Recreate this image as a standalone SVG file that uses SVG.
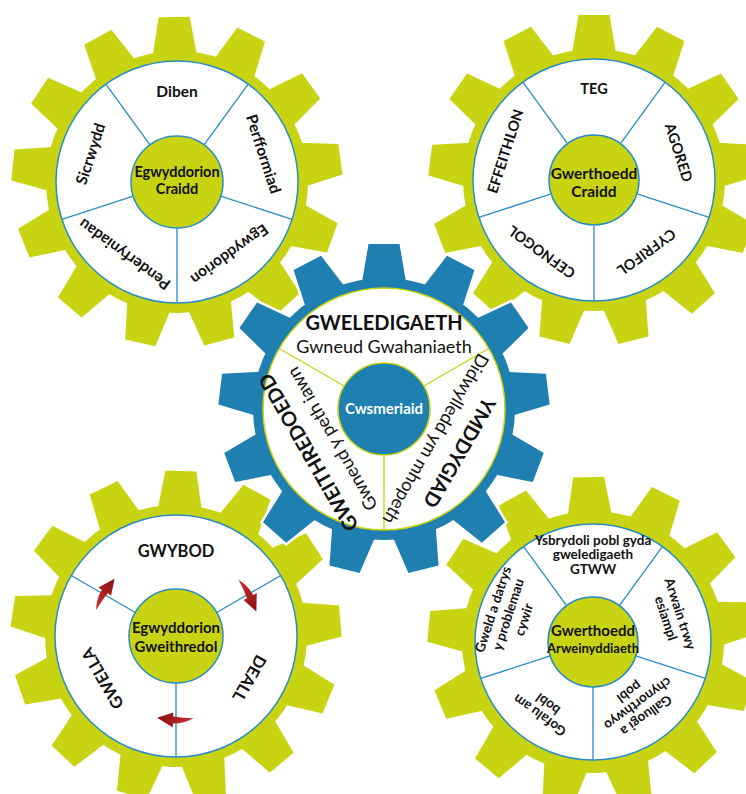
<svg xmlns="http://www.w3.org/2000/svg" width="746" height="794" viewBox="0 0 746 794">
<defs>
<style>
.t{font-family:Lato,"Liberation Sans",sans-serif;font-weight:bold;fill:#111;text-anchor:middle}
.rg{font-weight:normal}
.green{fill:#c8d412}
.blue{fill:#1e7fb0}
.halo{fill:#fff;stroke:#fff;stroke-width:5}
.ringB{fill:#fff;stroke:#2a8cc4;stroke-width:1.5}
.hubG{fill:#c8d412;stroke:#2a8cc4;stroke-width:1.5}
.divB line{stroke:#2a8cc4;stroke-width:1.3}
.ringY{fill:#fff;stroke:#c8d412;stroke-width:1.5}
.hubY{fill:#1e7fb0;stroke:#c8d412;stroke-width:1.5}
.divY line{stroke:#c8d412;stroke-width:1.3}
.arrow{fill:url(#red)}
</style>
<linearGradient id="red" x1="0" y1="0" x2="1" y2="0">
<stop offset="0" stop-color="#8a1010"/>
<stop offset="1" stop-color="#cc3030"/>
</linearGradient>
<path id="tooth" d="M-22,-127 L-15.5,-165 L15.5,-165 L22,-127 Z"/>
<g id="gear">
<circle r="131"/>
<use href="#tooth"/>
<use href="#tooth" transform="rotate(27.692)"/>
<use href="#tooth" transform="rotate(55.385)"/>
<use href="#tooth" transform="rotate(83.077)"/>
<use href="#tooth" transform="rotate(110.769)"/>
<use href="#tooth" transform="rotate(138.462)"/>
<use href="#tooth" transform="rotate(166.154)"/>
<use href="#tooth" transform="rotate(193.846)"/>
<use href="#tooth" transform="rotate(221.538)"/>
<use href="#tooth" transform="rotate(249.231)"/>
<use href="#tooth" transform="rotate(276.923)"/>
<use href="#tooth" transform="rotate(304.615)"/>
<use href="#tooth" transform="rotate(332.308)"/>
</g>
<path id="arr" d="M17.5,82.2 Q7.85,87.5 -3.05,87.45 L-3.19,91.45 L-18.9,81.85 L-2.67,76.45 L-2.81,80.45 Q6.95,82.05 17.5,82.2 Z"/>
</defs>

<rect width="746" height="794" fill="#fff"/>

<g id="gear-egwyddorion-craidd" transform="translate(177,182)">
<use href="#gear" class="green" transform="rotate(-1)"/>
<circle r="121" class="ringB"/>
<g class="divB">
<line y1="-46" y2="-121" transform="rotate(-36)"/>
<line y1="-46" y2="-121" transform="rotate(36)"/>
<line y1="-46" y2="-121" transform="rotate(108)"/>
<line y1="-46" y2="-121" transform="rotate(180)"/>
<line y1="-46" y2="-121" transform="rotate(252)"/>
</g>
<circle r="46" class="hubG"/>
<text class="t" font-size="14.5" y="-5">Egwyddorion</text>
<text class="t" font-size="14.5" y="12">Craidd</text>
<text class="t" font-size="15.5" y="-85.5">Diben</text>
<text class="t" font-size="15.5" y="-85.5" transform="rotate(72)">Perfformiad</text>
<text class="t" font-size="15.5" y="-84" transform="rotate(144)">Egwyddorion</text>
<text class="t" font-size="15.5" y="-84" transform="rotate(216)">Penderfyniadau</text>
<text class="t" font-size="15.5" y="-85.5" transform="rotate(288)">Sicrwydd</text>
</g>

<g id="gear-gwerthoedd-craidd" transform="translate(594,180)">
<use href="#gear" class="green"/>
<circle r="121" class="ringB"/>
<g class="divB">
<line y1="-46" y2="-121" transform="rotate(-36)"/>
<line y1="-46" y2="-121" transform="rotate(36)"/>
<line y1="-46" y2="-121" transform="rotate(108)"/>
<line y1="-46" y2="-121" transform="rotate(180)"/>
<line y1="-46" y2="-121" transform="rotate(252)"/>
</g>
<circle r="45" class="hubG"/>
<text class="t" font-size="15.5" y="-1">Gwerthoedd</text>
<text class="t" font-size="15.5" y="17">Craidd</text>
<text class="t" font-size="14.5" y="-86">TEG</text>
<text class="t" font-size="14.5" y="-84" transform="rotate(72)">AGORED</text>
<text class="t" font-size="14.5" y="-84" transform="rotate(144)">CYFRIFOL</text>
<text class="t" font-size="14.5" y="-84" transform="rotate(216)">CEFNOGOL</text>
<text class="t" font-size="14.5" y="-88" transform="rotate(288)">EFFEITHLON</text>
</g>

<g id="gear-egwyddorion-gweithredol" transform="translate(176,636)">
<use href="#gear" class="green" transform="rotate(1.7)"/>
<circle r="121" class="ringB"/>
<g class="divB">
<line y1="-47" y2="-121" transform="rotate(60)"/>
<line y1="-47" y2="-121" transform="rotate(180)"/>
<line y1="-47" y2="-121" transform="rotate(300)"/>
</g>
<circle r="47" class="hubG"/>
<text class="t" font-size="15" y="-3">Egwyddorion</text>
<text class="t" font-size="15" y="16">Gweithredol</text>
<text class="t" font-size="16.5" y="-79">GWYBOD</text>
<text class="t" font-size="16.5" y="-79" transform="rotate(120)">DEALL</text>
<text class="t" font-size="16.5" y="-79" transform="rotate(240)">GWELLA</text>
<use href="#arr" class="arrow"/>
<use href="#arr" class="arrow" transform="rotate(120)"/>
<use href="#arr" class="arrow" transform="rotate(240)"/>
</g>

<g id="gear-gwerthoedd-arweinyddiaeth" transform="translate(593,642)">
<use href="#gear" class="green" transform="rotate(-1.5)"/>
<circle r="118" class="ringB"/>
<g class="divB">
<line y1="-45" y2="-118" transform="rotate(-36)"/>
<line y1="-45" y2="-118" transform="rotate(36)"/>
<line y1="-45" y2="-118" transform="rotate(108)"/>
<line y1="-45" y2="-118" transform="rotate(180)"/>
<line y1="-45" y2="-118" transform="rotate(252)"/>
</g>
<circle r="45" class="hubG"/>
<text class="t" font-size="15" y="-6">Gwerthoedd</text>
<text class="t" font-size="13" y="11">Arweinyddiaeth</text>
<text class="t" font-size="13.5" y="-97.5">Ysbrydoli pobl gyda</text>
<text class="t" font-size="13.5" y="-83">gweledigaeth</text>
<text class="t" font-size="13.5" y="-68.5">GTWW</text>
<g transform="rotate(72)">
<text class="t" font-size="13.5" y="-87">Arwain trwy</text>
<text class="t" font-size="13.5" y="-72">esiampl</text>
</g>
<g transform="rotate(144)">
<text class="t" font-size="13.5" y="-86">Galluogi a</text>
<text class="t" font-size="13.5" y="-71.5">chynorthwyo</text>
<text class="t" font-size="13.5" y="-57">pobl</text>
</g>
<g transform="rotate(216)">
<text class="t" font-size="13.5" y="-86">Gofalu am</text>
<text class="t" font-size="13.5" y="-72">bobl</text>
</g>
<g transform="rotate(288)">
<text class="t" font-size="13.5" y="-100.5">Gweld a datrys</text>
<text class="t" font-size="13.5" y="-84.5">y problemau</text>
<text class="t" font-size="13.5" y="-68">cywir</text>
</g>
</g>

<g id="gear-cwsmeriaid" transform="translate(384,409)">
<use href="#gear" class="halo"/>
<use href="#gear" class="blue"/>
<circle r="121" class="ringY"/>
<g class="divY">
<line y1="-46" y2="-121" transform="rotate(60)"/>
<line y1="-46" y2="-121" transform="rotate(180)"/>
<line y1="-46" y2="-121" transform="rotate(300)"/>
</g>
<circle r="46" class="hubY"/>
<text class="t" font-size="15" y="4.5" style="fill:#fff">Cwsmeriaid</text>
<text class="t" font-size="20" y="-79">GWELEDIGAETH</text>
<text class="t rg" font-size="18" y="-56.5">Gwneud Gwahaniaeth</text>
<g transform="rotate(120)">
<text class="t" font-size="20" y="-80">YMDDYGIAD</text>
<text class="t rg" font-size="18" y="-53.5">Didwylledd ym mhopeth</text>
</g>
<g transform="rotate(240)">
<text class="t" font-size="20" y="-80">GWEITHREDOEDD</text>
<text class="t rg" font-size="18" y="-53.5">Gwneud y peth iawn</text>
</g>
</g>

<g id="connectors"/>
</svg>
